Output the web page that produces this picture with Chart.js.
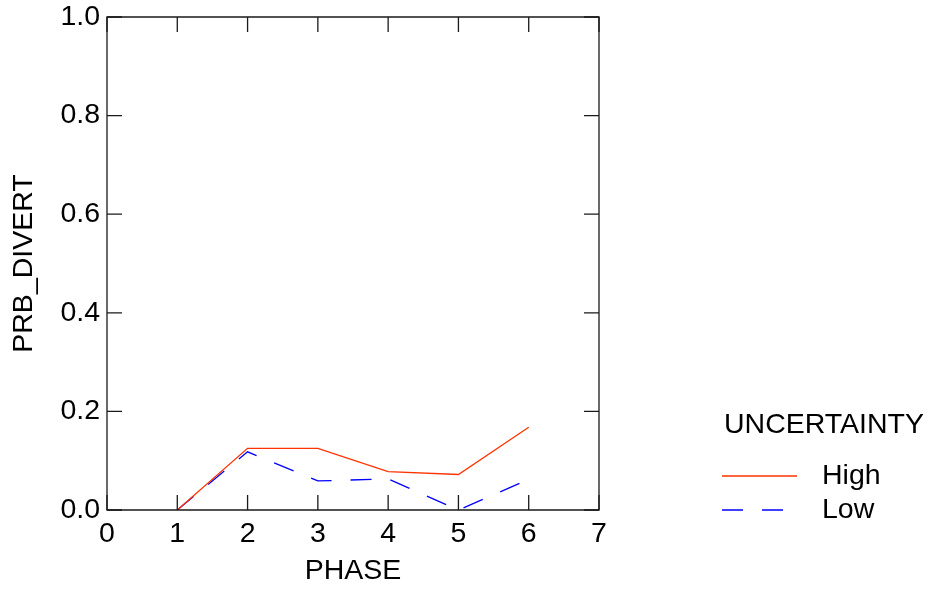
<!DOCTYPE html>
<html>
<head>
<meta charset="utf-8">
<script src="https://cdn.jsdelivr.net/npm/chart.js@4.4.1/dist/chart.umd.min.js"></script>
<style>
  html, body { margin: 0; padding: 0; background: #fff; }
  #wrap { width: 940px; height: 591px; position: relative; }
</style>
</head>
<body>
<div id="wrap"><canvas id="c" width="940" height="591"></canvas></div>
<script>
// ---- Data ----
const phases = [1, 2, 3, 4, 5, 6];
const highValues = [0.0, 0.125, 0.125, 0.078, 0.072, 0.168];
const lowValues = [0.0, 0.118, 0.059, 0.063, 0.0, 0.062];
const seriesNames = ['High', 'Low'];
const legendTitle = 'UNCERTAINTY';
const xTitle = 'PHASE';
const yTitle = 'PRB_DIVERT';
const xTicks = [0, 1, 2, 3, 4, 5, 6, 7];
const yTicks = [0.0, 0.2, 0.4, 0.6, 0.8, 1.0];

const FONT = "'Liberation Sans', Arial, Helvetica, sans-serif";
const FS = 28.5;
const TICK_LEN = 15;

function toPoints(xs, ys) { return xs.map((x, i) => ({ x: x, y: ys[i] })); }

const frameAndTicks = {
  id: 'frameAndTicks',
  afterDatasetsDraw(chart) {
    const ctx = chart.ctx;
    const a = chart.chartArea;
    const xs = chart.scales.x, ys = chart.scales.y;
    ctx.save();
    ctx.strokeStyle = '#1a1a1a';
    ctx.lineWidth = 1.3;
    ctx.beginPath();
    ctx.rect(a.left, a.top, a.right - a.left, a.bottom - a.top);
    ctx.stroke();
    ctx.beginPath();
    xTicks.forEach(v => {
      const px = xs.getPixelForValue(v);
      ctx.moveTo(px, a.bottom); ctx.lineTo(px, a.bottom - TICK_LEN);
      ctx.moveTo(px, a.top); ctx.lineTo(px, a.top + TICK_LEN);
    });
    yTicks.forEach(v => {
      const py = ys.getPixelForValue(v);
      ctx.moveTo(a.left, py); ctx.lineTo(a.left + TICK_LEN, py);
      ctx.moveTo(a.right, py); ctx.lineTo(a.right - TICK_LEN, py);
    });
    ctx.stroke();
    ctx.restore();
  }
};

const customLegend = {
  id: 'customLegend',
  afterDraw(chart) {
    const ctx = chart.ctx;
    ctx.save();
    ctx.font = FS + 'px ' + FONT;
    ctx.fillStyle = '#000';
    ctx.textBaseline = 'middle';
    ctx.textAlign = 'left';
    ctx.fillText(legendTitle, 724, 425);
    const rows = [476, 510];
    chart.data.datasets.forEach((ds, i) => {
      const y = rows[i];
      ctx.save();
      ctx.strokeStyle = ds.borderColor;
      ctx.lineWidth = ds.borderWidth;
      ctx.setLineDash(ds.borderDash || []);
      ctx.beginPath();
      ctx.moveTo(722, y); ctx.lineTo(797, y);
      ctx.stroke();
      ctx.restore();
      ctx.fillText(ds.label, 822, y);
    });
    ctx.restore();
  }
};

new Chart(document.getElementById('c'), {
  type: 'line',
  data: {
    datasets: [
      {
        label: seriesNames[0],
        data: toPoints(phases, highValues),
        borderColor: '#FF3300',
        borderWidth: 1.3,
        pointRadius: 0,
        fill: false,
        tension: 0
      },
      {
        label: seriesNames[1],
        data: toPoints(phases, lowValues),
        borderColor: '#0000FF',
        borderWidth: 1.3,
        borderDash: [21, 19],
        pointRadius: 0,
        fill: false,
        tension: 0
      }
    ]
  },
  options: {
    responsive: false,
    animation: false,
    devicePixelRatio: 1,
    layout: { padding: { top: 17, right: 341, left: 0, bottom: 0 } },
    plugins: { legend: { display: false }, tooltip: { enabled: false } },
    scales: {
      x: {
        type: 'linear',
        min: 0, max: 7,
        afterBuildTicks: s => { s.ticks = xTicks.map(v => ({ value: v })); },
        afterFit: s => { s.height = 81; s.paddingLeft = 0; s.paddingRight = 0; },
        ticks: { color: '#000', font: { family: FONT, size: FS }, padding: 7, maxRotation: 0, autoSkip: false,
                 callback: v => String(v) },
        grid: { display: false, drawTicks: false },
        border: { display: false },
        title: { display: true, text: xTitle, color: '#000', font: { family: FONT, size: FS }, padding: { top: 0, bottom: 3 } }
      },
      y: {
        type: 'linear',
        min: 0, max: 1,
        afterBuildTicks: s => { s.ticks = yTicks.map(v => ({ value: v })); },
        afterFit: s => { s.width = 107; s.paddingTop = 0; s.paddingBottom = 0; },
        ticks: { color: '#000', font: { family: FONT, size: FS }, padding: 7, autoSkip: false,
                 callback: v => Number(v).toFixed(1) },
        grid: { display: false, drawTicks: false },
        border: { display: false },
        title: { display: true, text: yTitle, color: '#000', font: { family: FONT, size: FS }, padding: { top: 7, bottom: 0 } }
      }
    }
  },
  plugins: [frameAndTicks, customLegend]
});
</script>
</body>
</html>
